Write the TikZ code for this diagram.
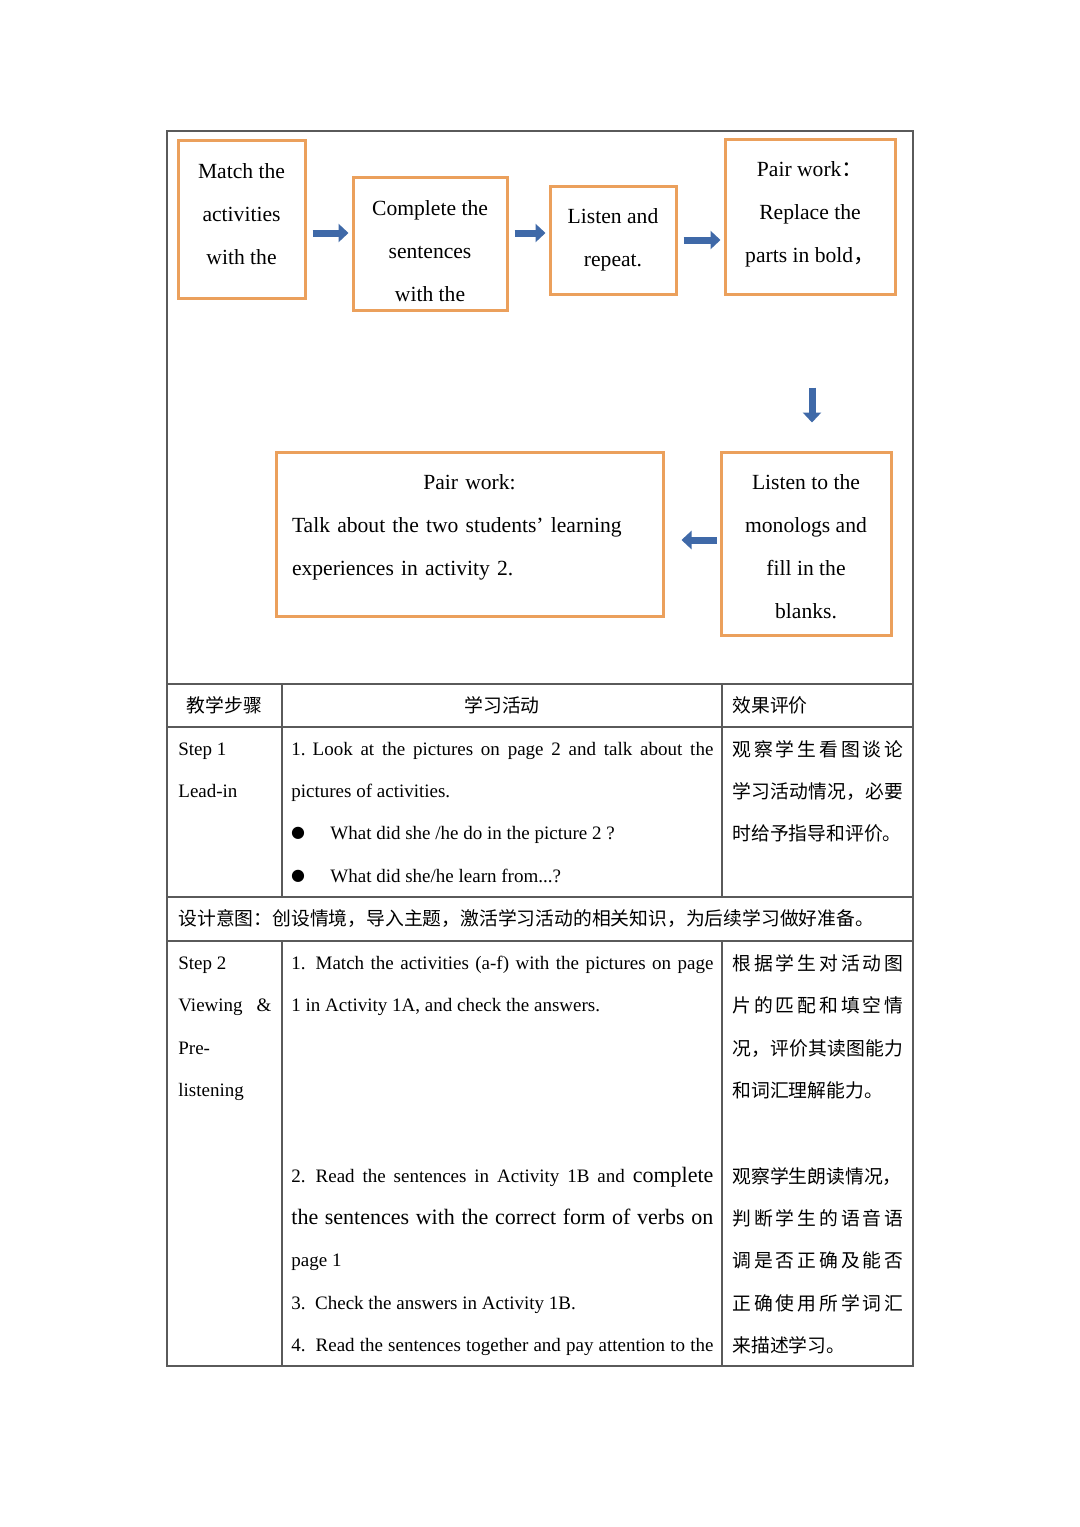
\documentclass[tikz,border=0pt]{standalone}
\usepackage{fontspec}
\setmainfont{Liberation Serif}
\newfontfamily\cjk{Noto Sans CJK SC}
\newfontfamily\symfont{DejaVu Sans}
\usetikzlibrary{arrows.meta}
\definecolor{BoxOrange}{HTML}{EBA05C}
\definecolor{ArrowBlue}{HTML}{3F69A8}
\definecolor{RuleGray}{HTML}{5A5A5A}
\newcommand{\boxfont}{\fontsize{10.8}{21.5}\selectfont}
\newcommand{\tabfont}{\fontsize{9.5}{21}\selectfont}
\newcommand{\zhfont}{\cjk\fontsize{9.4}{21}\selectfont}
% invisible struts to move box text up or down
\newcommand{\padtop}[1]{\rule{0pt}{#1}}
\newcommand{\padbot}[1]{\rule[-#1]{0pt}{#1}}
% spread CJK characters over a given width
\def\spreadnext#1#2{#1\ifx\relax#2\else\hfil\expandafter\spreadnext\fi#2}
\newcommand{\spreadzh}[2]{\hbox to #1{\spreadnext#2\relax}}

\begin{document}
\begin{tikzpicture}[x=0.5pt,y=-0.5pt,
  stepbox/.style={draw=BoxOrange,line width=1.5pt,align=center,inner sep=0pt,font=\boxfont},
  flow/.style={draw=ArrowBlue,line width=3.5pt,-{Triangle[length=5pt,width=9pt]}},
  cell/.style={anchor=base west,inner sep=0pt,font=\tabfont},
  zh/.style={anchor=base west,inner sep=0pt,font=\zhfont},
  dot/.style={inner sep=0pt,font=\symfont\fontsize{8}{8}\selectfont},
  rule/.style={draw=RuleGray,line width=0.8pt}]
\useasboundingbox (0,0) rectangle (1080,1527);

% flow of activities
\node[stepbox,minimum width=63.5pt,minimum height=79pt](match) at (241.5,219) {Match the\\activities\\with the\padbot{5pt}};
\node[stepbox,minimum width=77pt,minimum height=66.5pt](complete) at (430,243.5) {\padtop{15pt}Complete the\\sentences\\with the};
\node[stepbox,minimum width=63pt,minimum height=54pt](repeat) at (613,240) {Listen and\\repeat.};
\node[stepbox,minimum width=85pt,minimum height=77.5pt](replace) at (810,216.5) {Pair work{\cjk ：}\\Replace the\\parts in bold{\cjk ，}\padbot{4.5pt}};
\node[stepbox,minimum width=85pt,minimum height=91.5pt](monolog) at (806,543.5) {\padtop{11pt}Listen to the\\monologs and\\fill in the\\blanks.};
\node[stepbox,align=left,text width=177.5pt,inner xsep=8pt,minimum width=193.5pt,minimum height=82pt](talk) at (469.5,534)
  {\makebox[177.5pt]{Pair work:}\\Talk about the two students’ learning\\experiences in activity 2.\padbot{8.8pt}};
\foreach \p/\q/\y in {match/complete/233,complete/repeat/233,repeat/replace/240}{\draw[flow,shorten <=3pt,shorten >=1.5pt](\p.east |- 0,\y)--(\q.west |- 0,\y);}
\draw[flow,shorten <=46pt,shorten >=14pt](replace.south -| 812,0)--(monolog.north -| 812,0);
\draw[flow,shorten <=1.5pt,shorten >=8.5pt](monolog.west |- 0,540)--(talk.east |- 0,540);

% table
\draw[rule](167,131) rectangle (913,1366);
\foreach \y in {684,727,897,941}{\draw[rule](167,\y)--(913,\y);}
\foreach \x in {282,722}{\draw[rule](\x,684)--(\x,897); \draw[rule](\x,941)--(\x,1366);}

\node[zh,anchor=base](hstep) at (224.5,712) {教学步骤};
\node[zh,anchor=base](hact) at (502,712) {学习活动};
\node[zh](heval) at (732,712) {效果评价};

% step 1
\node[cell](s1a) at (178,755) {Step 1};
\node[cell](s1b) at (178,797) {Lead-in};
\node[cell](s1c) at (291,755) {\makebox[211pt][s]{1.\hspace{3.5pt}Look at the pictures on page 2 and talk about the}};
\node[cell](s1d) at (291,797) {pictures of activities.};
\node[dot](b1) at (298,833) {●};
\node[cell](s1e) at (330,839) {What did she /he do in the picture 2 ?};
\node[dot](b2) at (298,876) {●};
\node[cell](s1f) at (330,882) {What did she/he learn from...?};
\node[zh](s1g) at (732,756) {\spreadzh{85.5pt}{观察学生看图谈论}};
\node[zh](s1h) at (732,798) {\spreadzh{85.5pt}{学习活动情况，必要}};
\node[zh](s1i) at (732,840) {时给予指导和评价。};

\node[zh](aim) at (178,925) {设计意图：创设情境，导入主题，激活学习活动的相关知识，为后续学习做好准备。};

% step 2
\node[cell](s2a) at (178,969) {Step 2};
\node[cell](s2b) at (178,1011) {\makebox[46.5pt][s]{Viewing \&}};
\node[cell](s2c) at (178,1054) {Pre-};
\node[cell](s2d) at (178,1096) {listening};
\node[cell](s2e) at (291,969) {\makebox[211pt][s]{1.\hspace{5pt}Match the activities (a-f) with the pictures on page}};
\node[cell](s2f) at (291,1011) {1 in Activity 1A, and check the answers.};
\node[cell](s2g) at (291,1182) {\makebox[211pt][s]{2.\hspace{5pt}Read the sentences in Activity 1B and {\fontsize{11}{21}\selectfont complete}}};
\node[cell](s2h) at (291,1224) {\fontsize{11}{21}\selectfont\makebox[211pt][s]{the sentences with the correct form of verbs on}};
\node[cell](s2i) at (291,1266) {page 1};
\node[cell](s2j) at (291,1309) {3.\ \ Check the answers in Activity 1B.};
\node[cell](s2k) at (291,1351) {\makebox[211pt][s]{4.\hspace{5pt}Read the sentences together and pay attention to the}};
\node[zh](s2l) at (732,970) {\spreadzh{85.5pt}{根据学生对活动图}};
\node[zh](s2m) at (732,1012) {\spreadzh{85.5pt}{片的匹配和填空情}};
\node[zh](s2n) at (732,1055) {\spreadzh{85.5pt}{况，评价其读图能力}};
\node[zh](s2o) at (732,1097) {和词汇理解能力。};
\node[zh](s2p) at (732,1183) {观察学生朗读情况，};
\node[zh](s2q) at (732,1225) {\spreadzh{85.5pt}{判断学生的语音语}};
\node[zh](s2r) at (732,1267) {\spreadzh{85.5pt}{调是否正确及能否}};
\node[zh](s2s) at (732,1310) {\spreadzh{85.5pt}{正确使用所学词汇}};
\node[zh](s2t) at (732,1352) {来描述学习。};
\end{tikzpicture}
\end{document}
